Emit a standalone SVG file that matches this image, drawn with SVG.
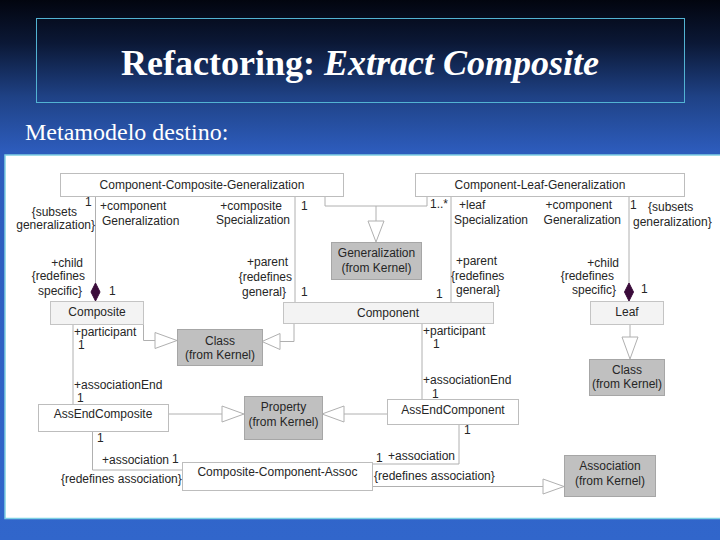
<svg xmlns="http://www.w3.org/2000/svg" width="720" height="540" viewBox="0 0 720 540">
<defs>
<linearGradient id="bg" x1="0" y1="0" x2="0" y2="1">
<stop offset="0" stop-color="#02050f"/>
<stop offset="0.08" stop-color="#0b1836"/>
<stop offset="0.18" stop-color="#1f4286"/>
<stop offset="0.28" stop-color="#2d5cbc"/>
<stop offset="1" stop-color="#3166cb"/>
</linearGradient>
<style>
.t{font-family:"Liberation Sans",Arial,sans-serif;font-size:12px;fill:#262626}
.m{text-anchor:middle}
.e{text-anchor:end}
.n{fill:#ffffff;stroke:#bdbdbd;stroke-width:1}
.nl{fill:#f3f3f3;stroke:#c4c4c4;stroke-width:1}
.ng{fill:#c0c0c0;stroke:#a6a6a6;stroke-width:1}
.c{fill:none;stroke:#b0b0b0;stroke-width:1}
.tri{fill:#ffffff;stroke:#b0b0b0;stroke-width:1}
.dia{fill:#3a0b3a;stroke:#3a0b3a}
</style>
</defs>
<rect x="0" y="0" width="720" height="540" fill="url(#bg)"/>
<rect x="36.5" y="18.5" width="648" height="84" fill="none" stroke="#52b3d3" stroke-width="1"/>
<text x="360" y="75" text-anchor="middle" font-family="'Liberation Serif','Times New Roman',serif" font-size="36" font-weight="bold" fill="#ffffff">Refactoring: <tspan font-style="italic">Extract Composite</tspan></text>
<text x="25" y="140" font-family="'Liberation Serif','Times New Roman',serif" font-size="24" fill="#ffffff">Metamodelo destino:</text>
<rect x="5" y="155" width="716" height="363.5" fill="#ffffff" stroke="#7fd0e4" stroke-width="1.5"/>

<g id="connectors">
<polyline class="c" points="325,196 325,206 427,206 427,197"/>
<line class="c" x1="376" y1="206" x2="376" y2="221"/>
<polygon class="tri" points="368,221 384,221 376,242"/>
<line class="c" x1="95.5" y1="196" x2="95.5" y2="283"/>
<polygon class="dia" points="95.5,283 100,292 95.5,301 91,292"/>
<line class="c" x1="295" y1="196" x2="295" y2="302"/>
<line class="c" x1="451" y1="197" x2="451" y2="302"/>
<line class="c" x1="629" y1="197" x2="629" y2="283"/>
<polygon class="dia" points="629,283 633.5,292 629,301 624.5,292"/>
<polyline class="c" points="143.5,325 143.5,340.5 155,340.5"/>
<polygon class="tri" points="155,332.5 155,348.5 177,340.5"/>
<polyline class="c" points="294,324 294,341.5 280,341.5"/>
<polygon class="tri" points="280,333.5 280,349.5 262,341.5"/>
<line class="c" x1="422" y1="324" x2="422" y2="399"/>
<line class="c" x1="73" y1="325" x2="73" y2="404"/>
<line class="c" x1="630" y1="325" x2="630" y2="337"/>
<polygon class="tri" points="622,337 638,337 630,359"/>
<line class="c" x1="168" y1="414" x2="222" y2="414"/>
<polygon class="tri" points="222,406 222,422 244,414"/>
<line class="c" x1="387" y1="414" x2="344" y2="414"/>
<polygon class="tri" points="344,406 344,422 322,414"/>
<polyline class="c" points="92.5,432 92.5,470 182,470"/>
<polyline class="c" points="459,425 459,464 372,464"/>
<line class="c" x1="372" y1="486.5" x2="543" y2="486.5"/>
<polygon class="tri" points="543,479 543,494 564,486.5"/>
</g>

<g id="CCG"><rect class="n" x="60.5" y="173.5" width="283" height="23"/><text class="t m" x="202" y="189">Component-Composite-Generalization</text></g>
<g id="CLG"><rect class="n" x="415.5" y="173.5" width="269" height="23"/><text class="t m" x="540" y="189">Component-Leaf-Generalization</text></g>
<g id="Generalization"><rect class="ng" x="331.5" y="242.5" width="90" height="37"/><text class="t m" x="376.5" y="257">Generalization</text><text class="t m" x="376.5" y="272">(from Kernel)</text></g>
<g id="Component"><rect class="nl" x="283.5" y="302.5" width="210" height="21"/><text class="t m" x="388" y="317">Component</text></g>
<g id="Composite"><rect class="nl" x="50.5" y="301.5" width="93" height="23"/><text class="t m" x="97" y="316">Composite</text></g>
<g id="Leaf"><rect class="nl" x="590.5" y="301.5" width="73" height="23"/><text class="t m" x="627" y="316">Leaf</text></g>
<g id="ClassLeft"><rect class="ng" x="177.5" y="329.5" width="85" height="36"/><text class="t m" x="220" y="345">Class</text><text class="t m" x="220" y="359">(from Kernel)</text></g>
<g id="ClassRight"><rect class="ng" x="589.5" y="359.5" width="75" height="36"/><text class="t m" x="627" y="374">Class</text><text class="t m" x="627" y="388">(from Kernel)</text></g>
<g id="AssEndComposite"><rect class="n" x="38.5" y="404.5" width="130" height="27"/><text class="t m" x="103" y="418">AssEndComposite</text></g>
<g id="Property"><rect class="ng" x="244.5" y="396.5" width="78" height="43"/><text class="t m" x="283.5" y="411">Property</text><text class="t m" x="283.5" y="426">(from Kernel)</text></g>
<g id="AssEndComponent"><rect class="n" x="387.5" y="399.5" width="131" height="25"/><text class="t m" x="453" y="414">AssEndComponent</text></g>
<g id="CCA"><rect class="n" x="182.5" y="462.5" width="190" height="28"/><text class="t m" x="277.5" y="476">Composite-Component-Assoc</text></g>
<g id="Association"><rect class="ng" x="564.5" y="455.5" width="91" height="41"/><text class="t m" x="610" y="470">Association</text><text class="t m" x="610" y="485">(from Kernel)</text></g>

<g id="labels">
<text class="t" x="85" y="206">1</text>
<text class="t e" x="77" y="216">{subsets</text>
<text class="t e" x="95" y="229">generalization}</text>
<text class="t" x="100" y="210">+component</text>
<text class="t" x="102" y="225">Generalization</text>
<text class="t e" x="282" y="210">+composite</text>
<text class="t e" x="290" y="224">Specialization</text>
<text class="t" x="301" y="210">1</text>
<text class="t e" x="83" y="267">+child</text>
<text class="t e" x="85" y="280">{redefines</text>
<text class="t e" x="82" y="295">specific}</text>
<text class="t" x="109" y="295">1</text>
<text class="t e" x="288" y="266">+parent</text>
<text class="t e" x="292" y="281">{redefines</text>
<text class="t e" x="286" y="296">general}</text>
<text class="t" x="301" y="296">1</text>
<text class="t" x="430" y="208">1..*</text>
<text class="t" x="459" y="209">+leaf</text>
<text class="t" x="454" y="224">Specialization</text>
<text class="t e" x="612" y="209">+component</text>
<text class="t e" x="621" y="224">Generalization</text>
<text class="t" x="630" y="209">1</text>
<text class="t" x="648" y="211">{subsets</text>
<text class="t" x="633" y="226">generalization}</text>
<text class="t" x="456" y="265">+parent</text>
<text class="t" x="451" y="280">{redefines</text>
<text class="t" x="456" y="294">general}</text>
<text class="t" x="436" y="298">1</text>
<text class="t e" x="619" y="267">+child</text>
<text class="t e" x="614" y="280">{redefines</text>
<text class="t e" x="616" y="294">specific}</text>
<text class="t" x="641" y="293">1</text>
<text class="t" x="74" y="336">+participant</text>
<text class="t" x="78" y="349">1</text>
<text class="t" x="74" y="389">+associationEnd</text>
<text class="t" x="77" y="402">1</text>
<text class="t" x="423" y="335">+participant</text>
<text class="t" x="433" y="348">1</text>
<text class="t" x="423" y="384">+associationEnd</text>
<text class="t" x="432" y="398">1</text>
<text class="t" x="97" y="442">1</text>
<text class="t" x="102" y="464">+association</text>
<text class="t" x="172" y="463">1</text>
<text class="t" x="61" y="483">{redefines association}</text>
<text class="t" x="464" y="434">1</text>
<text class="t" x="376" y="462">1</text>
<text class="t" x="388" y="460">+association</text>
<text class="t" x="374" y="480">{redefines association}</text>
</g>
</svg>
